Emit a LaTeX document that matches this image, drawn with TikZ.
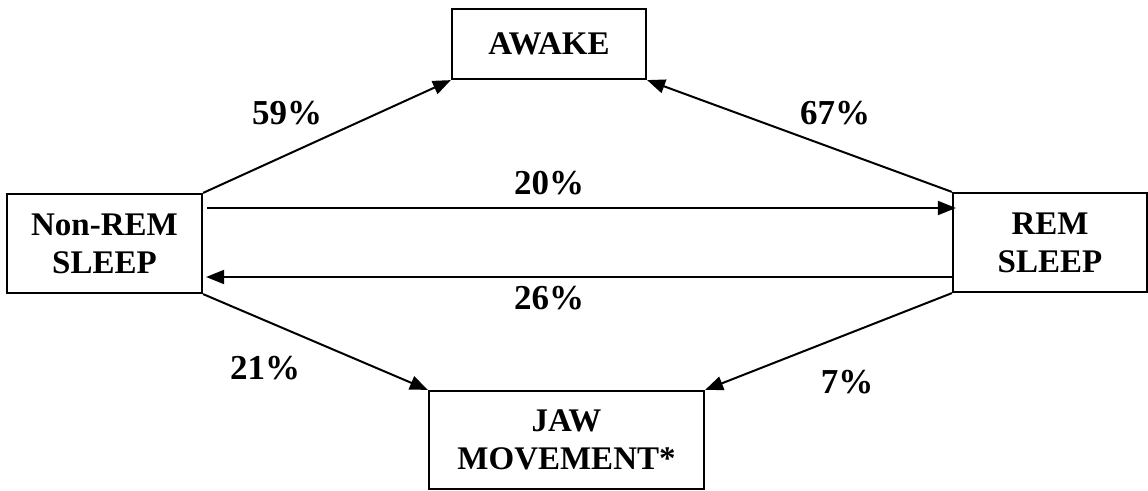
\documentclass[tikz,border=0pt]{standalone}
\usepackage{fontspec}
\setmainfont{Liberation Serif}
\usetikzlibrary{arrows.meta}
\begin{document}
\begin{tikzpicture}[x=1pt,y=-1pt,
  box/.style={draw,line width=2.2pt,inner sep=0pt,align=center,
    font=\bfseries\fontsize{33}{38}\selectfont},
  pct/.style={font=\bfseries\fontsize{35}{40}\selectfont,inner sep=0pt},
  arr/.style={line width=2pt,-{Triangle[length=18pt,width=14pt]}}]
\useasboundingbox (0,0) rectangle (1148,490);
\node[box,minimum width=194pt,minimum height=70pt] (awake) at (549,44) {AWAKE};
\node[box,minimum width=195pt,minimum height=99pt] (nrem) at (104.5,243.5) {Non-REM\\SLEEP};
\node[box,minimum width=194pt,minimum height=99pt] (rem) at (1050,242.5) {REM\\SLEEP};
\node[box,minimum width=275pt,minimum height=98pt] (jaw) at (566.5,440) {JAW\\MOVEMENT*};
\draw[arr] (nrem.north east) -- (awake.south west);
\draw[arr] (rem.north west) -- (awake.south east);
\draw[arr] (nrem.south east) -- (jaw.north west);
\draw[arr] (rem.south west) -- (jaw.north east);
\draw[arr] ([xshift=4pt,yshift=35.5pt]nrem.east) -- ([xshift=4pt,yshift=35.5pt]nrem.east -| rem.west);
\draw[arr] ([yshift=-34.5pt]rem.west) -- ([xshift=3pt,yshift=-34.5pt]rem.west -| nrem.east);
\node[pct] (p59) at (287,113) {59\%};
\node[pct] (p67) at (835,113) {67\%};
\node[pct] (p20) at (549,183) {20\%};
\node[pct] (p26) at (549,298) {26\%};
\node[pct] (p21) at (265,368) {21\%};
\node[pct] (p7) at (847,382) {7\%};
\end{tikzpicture}
\end{document}
